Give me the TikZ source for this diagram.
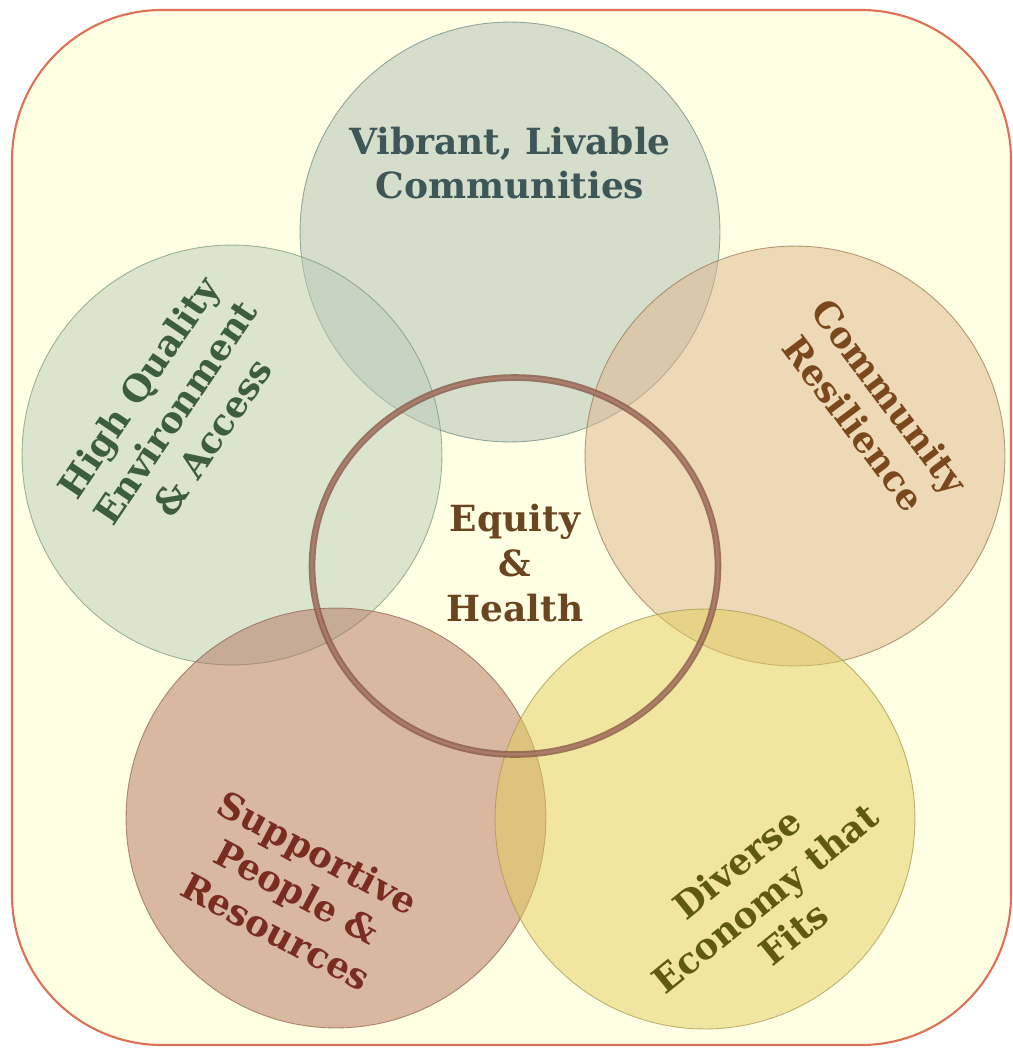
\documentclass[tikz,border=0pt]{standalone}
\usepackage{fontspec}
\setmainfont{DejaVu Serif}
\usepackage{tikz}
\usetikzlibrary{shapes,positioning}

\definecolor{bgyellow}{RGB}{255,255,228}
\definecolor{frame}{RGB}{222,112,84}
\definecolor{vibfill}{RGB}{172,190,180}
\definecolor{vibline}{RGB}{110,135,125}
\definecolor{envfill}{RGB}{185,204,184}
\definecolor{envline}{RGB}{120,150,120}
\definecolor{resfill}{RGB}{222,180,138}
\definecolor{resline}{RGB}{150,115,80}
\definecolor{supfill}{RGB}{178,114,96}
\definecolor{supline}{RGB}{140,95,80}
\definecolor{ecofill}{RGB}{226,206,92}
\definecolor{ecoline}{RGB}{160,150,80}
\definecolor{ringbrown}{RGB}{135,88,72}
\definecolor{ringlight}{RGB}{178,128,108}
\definecolor{vibtext}{RGB}{61,87,89}
\definecolor{envtext}{RGB}{61,94,58}
\definecolor{restext}{RGB}{122,72,28}
\definecolor{suptext}{RGB}{122,45,30}
\definecolor{ecotext}{RGB}{94,90,16}
\definecolor{eqtext}{RGB}{107,69,32}

\begin{document}
\begin{tikzpicture}[x=0.02cm,y=-0.02cm]

 \tikzstyle{goal}=[circle,inner sep=0cm,minimum size=8.4cm,
fill opacity=0.5,draw opacity=0.7,line width=0.5pt]
 \tikzstyle{goaltext}=[align=center,inner sep=0pt,
font=\bfseries\fontsize{20.5}{25.5}\selectfont]

\useasboundingbox (0,0) rectangle (1012,1048);
\draw [fill=bgyellow,draw=frame,line width=1.2pt,rounded corners=3cm] (12,10) rectangle (1011,1045);

% Goal circles
\node[goal,fill=vibfill,draw=vibline] (C_VIB) at (510,232) {};
\node[goal,fill=envfill,draw=envline] (C_ENV) at (232,455) {};
\node[goal,fill=resfill,draw=resline] (C_RES) at (795,456) {};
\node[goal,fill=supfill,draw=supline] (C_SUP) at (336,818) {};
\node[goal,fill=ecofill,draw=ecoline] (C_ECO) at (705,819) {};

% Centre ring
\node[ellipse,draw=ringbrown,double=ringlight,double distance=1.4pt,
line width=1.2pt,draw opacity=0.8,inner sep=0cm,
minimum width=8.12cm,minimum height=7.54cm] (C_EQ) at (515,566) {};

% Labels
\node[goaltext,text=vibtext] (L_VIB) at (510,163) {Vibrant, Livable\\Communities};
\node[goaltext,text=envtext,rotate=56] (L_ENV) at (175,412) {High Quality\\Environment\\\& Access};
\node[goaltext,text=restext,rotate=-53] (L_RES) at (872,410) {Community\\Resilience};
\node[goaltext,text=suptext,rotate=-28] (L_SUP) at (297,892) {Supportive\\People \&\\Resources};
\node[goaltext,text=ecotext,rotate=39] (L_ECO) at (765,898) {Diverse\\Economy that\\Fits};
\node[goaltext,text=eqtext] (L_EQ) at (515,563) {Equity\\\&\\Health};

\end{tikzpicture}
\end{document}
